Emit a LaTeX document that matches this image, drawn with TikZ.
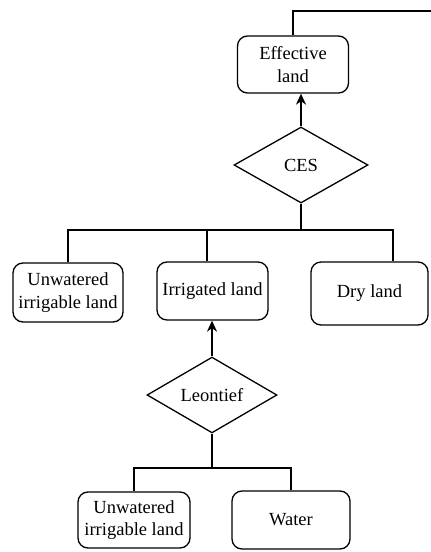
\documentclass[tikz,border=0pt]{standalone}
\usepackage{fontspec}
\setmainfont{Liberation Serif}
\usepackage{tikz}
\usetikzlibrary{shapes,arrows,arrows.meta,positioning}

\begin{document}
\begin{tikzpicture}[
    x=1pt, y=-1pt,
    every node/.style={font=\fontsize{18.5}{22.5}\selectfont},
    block/.style={rectangle, draw, line width=1.3pt, align=center, inner sep=0pt, rounded corners=10pt},
    choice/.style={diamond, draw, line width=1.3pt, inner sep=0pt},
    link/.style={line width=1.8pt},
    arrow/.style={-{Stealth[length=11pt, width=10pt, inset=3.5pt]}, line width=1.8pt}
]
\useasboundingbox (0,0) rectangle (431,552);

\node[block, minimum width=111pt, minimum height=57pt] (eff) at (293,64.5) {Effective\\land};
\node[choice, minimum width=134pt, minimum height=76pt] (ces) at (301,165) {CES};

\node[block, minimum width=110pt, minimum height=59pt] (unw1) at (68,292.5) {Unwatered\\irrigable land};
\node[block, minimum width=111pt, minimum height=58pt] (irr) at (212.5,291) {Irrigated land};
\node[block, minimum width=117pt, minimum height=63pt] (dry) at (369.5,293.5) {Dry land};

\node[choice, minimum width=130pt, minimum height=75pt] (leo) at (212,395) {Leontief};

\node[block, minimum width=112pt, minimum height=56pt] (unw2) at (134,520) {Unwatered\\irrigable land};
\node[block, minimum width=118pt, minimum height=58pt] (wat) at (291,520) {Water};

% effective land goes on to the next level
\coordinate (out) at (431,11);
\draw[link] (eff.north) |- (out);

% CES nest
\draw[arrow] (ces.north) -- (ces.north |- eff.south);
\coordinate (ces-split) at (301,230);
\draw[link] (ces.south) -- (ces-split);
\draw[link] (unw1.north) |- ([xshift=23.5pt]dry.north |- ces-split) -- ([xshift=23.5pt]dry.north);
\draw[link] ([xshift=-5.5pt]irr.north) -- ([xshift=-5.5pt]irr.north |- ces-split);

% Leontief nest
\draw[arrow] (leo.north) -- (leo.north |- irr.south);
\coordinate (leo-split) at (212,468);
\draw[link] (leo.south) -- (leo-split);
\draw[link] (unw2.north) |- (wat.north |- leo-split) -- (wat.north);

\end{tikzpicture}
\end{document}
